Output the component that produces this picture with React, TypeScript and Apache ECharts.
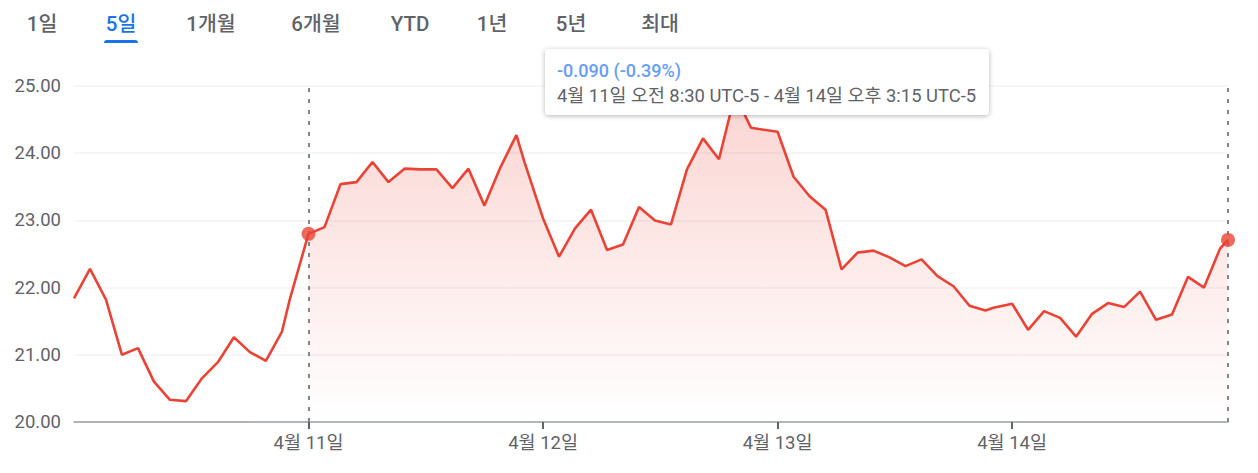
import React, { useEffect, useRef } from "react";
import * as echarts from "echarts";

// ---- data ----
const dayLabels = ["4월 10일", "4월 11일", "4월 12일", "4월 13일", "4월 14일"];
const timeSlots = ["08:30", "09:00", "09:30", "10:00", "10:30", "11:00", "11:30", "12:00", "12:30", "13:00", "13:30", "14:00", "14:30", "15:00", "15:15"];
const apr10 = [21.84, 22.28, 21.82, 21.0, 21.1, 20.6, 20.33, 20.31, 20.65, 20.89, 21.26, 21.04, 20.91, 21.34, 21.83];
const apr11 = [22.8, 22.9, 23.54, 23.57, 23.87, 23.57, 23.77, 23.76, 23.76, 23.48, 23.77, 23.22, 23.79, 24.27, 23.87];
const apr12 = [23.03, 22.46, 22.88, 23.16, 22.56, 22.64, 23.2, 23.0, 22.94, 23.76, 24.22, 23.91, 24.87, 24.38, 24.36];
const apr13 = [24.32, 23.65, 23.36, 23.16, 22.27, 22.52, 22.55, 22.45, 22.32, 22.42, 22.17, 22.02, 21.73, 21.66, 21.7];
const apr14 = [21.76, 21.37, 21.65, 21.55, 21.27, 21.61, 21.77, 21.71, 21.94, 21.52, 21.6, 22.16, 22.0, 22.58, 22.71];
const yTicks = [20, 21, 22, 23, 24, 25];
const rangeTabs = ["1일", "5일", "1개월", "6개월", "YTD", "1년", "5년", "최대"];
const activeTab = "5일";
const changeText = "-0.090 (-0.39%)";
const rangeText = "4월 11일 오전 8:30 UTC-5 - 4월 14일 오후 3:15 UTC-5";

const DAY_SPAN = 440; // minutes of axis per trading day (session + overnight gap)
const FONT = 'Roboto, "Noto Sans CJK KR", sans-serif';

function slotMinutes(s: string) {
  const [h, m] = s.split(":").map(Number);
  return (h - 8) * 60 + m - 30;
}

export default function App() {
  const ref = useRef<HTMLDivElement>(null);
  useEffect(() => {
    if (!ref.current) return;
    document.body.style.margin = "0";
    const chart = echarts.init(ref.current, null, { renderer: "svg" });
    const days = [apr10, apr11, apr12, apr13, apr14];
    const full: [number, number][] = [];
    days.forEach((vals, d) => {
      vals.forEach((v, i) => full.push([d * DAY_SPAN + slotMinutes(timeSlots[i]), v]));
    });
    const startIdx = apr10.length;
    const area = full.map((p, i) => (i >= startIdx ? p : [p[0], null]));
    const xMax = full[full.length - 1][0];
    const dayTicks = [1, 2, 3, 4].map((d) => d * DAY_SPAN);
    const endpoints = [full[startIdx], full[full.length - 1]];

    const tabX = [42, 121, 211, 316, 410, 492, 571, 660];
    const graphics: any[] = rangeTabs.map((t, i) => ({
      type: "text",
      z: 100,
      x: tabX[i],
      y: 24,
      style: {
        text: t,
        fill: t === activeTab ? "#1a73e8" : "#5f6368",
        font: `500 20.5px ${FONT}`,
        align: "center",
        verticalAlign: "middle",
      },
    }));
    graphics.push({
      type: "rect",
      z: 100,
      shape: { x: 104, y: 40, width: 34, height: 3, r: [3, 3, 0, 0] },
      style: { fill: "#1a73e8" },
    });
    graphics.push({
      type: "group",
      z: 100,
      children: [
        {
          type: "rect",
          z: 100,
          shape: { x: 545, y: 49, width: 444, height: 66, r: 4 },
          style: {
            fill: "#ffffff",
            shadowBlur: 5,
            shadowColor: "rgba(0,0,0,0.3)",
            shadowOffsetY: 1,
          },
        },
        {
          type: "text",
          z: 101,
          x: 557,
          y: 70,
          style: { text: changeText, fill: "#669df6", font: `500 18px ${FONT}`, verticalAlign: "middle" },
        },
        {
          type: "text",
          z: 101,
          x: 557,
          y: 95,
          style: { text: rangeText, fill: "#5f6368", font: `18.4px ${FONT}`, verticalAlign: "middle" },
        },
      ],
    });

    chart.setOption({
      animation: false,
      grid: { left: 74, right: 30, top: 86, bottom: 51 },
      xAxis: {
        type: "value",
        min: 0,
        max: xMax,
        interval: DAY_SPAN,
        axisLine: { show: true, lineStyle: { color: "#9aa0a6", width: 1.5 } },
        axisTick: {
          show: true,
          customValues: dayTicks,
          length: 7,
          lineStyle: { color: "#5f6368", width: 2 },
        },
        axisLabel: {
          customValues: dayTicks,
          margin: 12,
          color: "#5f6368",
          fontSize: 18.5,
          fontFamily: FONT,
          formatter: (v: number) => dayLabels[Math.round(v / DAY_SPAN)] || "",
        },
        splitLine: { show: false },
      },
      yAxis: {
        type: "value",
        min: yTicks[0],
        max: yTicks[yTicks.length - 1],
        interval: 1,
        axisLine: { show: false },
        axisTick: { show: false },
        axisLabel: {
          margin: 13,
          color: "#5f6368",
          fontSize: 18.5,
          fontFamily: FONT,
          formatter: (v: number) => v.toFixed(2),
        },
        splitLine: { show: true, lineStyle: { color: "#f1f3f4", width: 1.5 } },
      },
      series: [
        {
          type: "line",
          data: area,
          showSymbol: false,
          connectNulls: false,
          lineStyle: { width: 0 },
          areaStyle: {
            origin: "start",
            color: new echarts.graphic.LinearGradient(0, 0, 0, 1, [
              { offset: 0, color: "rgba(234,67,53,0.32)" },
              { offset: 1, color: "rgba(234,67,53,0.0)" },
            ]),
          },
          z: 1,
          silent: true,
        },
        {
          type: "line",
          data: full,
          showSymbol: false,
          lineStyle: { color: "#ea4335", width: 2.6 },
          z: 3,
          silent: true,
        },
        {
          type: "scatter",
          data: endpoints,
          symbolSize: 14,
          itemStyle: { color: "#ea4335" },
          z: 4,
          silent: true,
          markLine: {
            silent: true,
            symbol: "none",
            label: { show: false },
            lineStyle: { color: "#80868b", type: [4, 7], width: 2 },
            data: [{ xAxis: endpoints[0][0] }, { xAxis: endpoints[1][0] }],
            z: 2,
          },
        },
      ],
      graphic: graphics,
    });
    return () => chart.dispose();
  }, []);
  return <div ref={ref} style={{ position: "absolute", left: 0, top: 0, width: 1258, height: 473 }} />;
}
